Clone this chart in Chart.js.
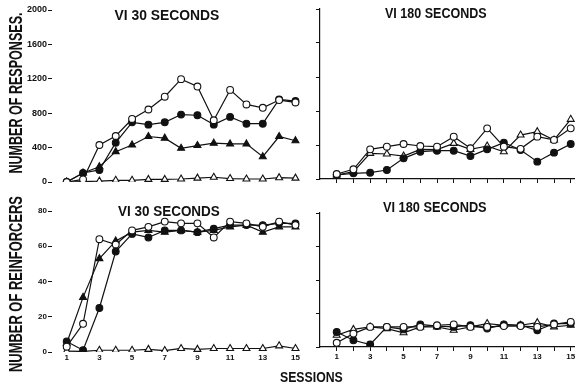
<!DOCTYPE html>
<html>
<head>
<meta charset="utf-8">
<script src="https://cdn.jsdelivr.net/npm/chart.js@4.4.0/dist/chart.umd.min.js"></script>
<style>
html, body { margin: 0; padding: 0; background: #fff; width: 576px; height: 383px; overflow: hidden; position: relative; font-family: 'Liberation Sans', Arial, sans-serif; }
canvas { position: absolute; }
.lbl { position: absolute; font-weight: bold; color: #111; white-space: nowrap; line-height: 1; transform-origin: center center; }
</style>
</head>
<body>
<canvas id="tl" style="left:12px;top:0px" width="300" height="192"></canvas>
<canvas id="tr" style="left:280px;top:0px" width="300" height="189"></canvas>
<canvas id="bl" style="left:12px;top:195px" width="300" height="171"></canvas>
<canvas id="br" style="left:280px;top:195px" width="300" height="166"></canvas>
<script>
const sessions = [1, 2, 3, 4, 5, 6, 7, 8, 9, 10, 11, 12, 13, 14, 15];
const sessionLabels = [1, 3, 5, 7, 9, 11, 13, 15];
const responseTicks = [0, 400, 800, 1200, 1600, 2000];
const reinforcerTicks = [0, 20, 40, 60, 80];

// responses, VI 30 s
const openCircle30R   = [0, 30, 430, 535, 733, 843, 992, 1196, 1110, 718, 1071, 902, 863, 953, 925];
const filledCircle30R = [0, 105, 140, 457, 694, 667, 694, 784, 776, 667, 757, 678, 678, 961, 941];
const filledTri30R    = [0, 105, 178, 353, 431, 529, 510, 392, 424, 451, 443, 443, 294, 529, 480];
const openTri30R      = [0, 5, 10, 20, 20, 30, 30, 35, 45, 55, 40, 35, 35, 50, 45];

// responses, VI 180 s
const openCircle180R   = [59, 114, 349, 380, 412, 388, 380, 498, 361, 596, 380, 355, 498, 460, 596];
const filledCircle180R = [47, 67, 74, 106, 243, 321, 333, 333, 270, 349, 427, 341, 204, 310, 412];
const openTri180R      = [47, 86, 302, 294, 270, 349, 345, 419, 349, 388, 321, 517, 557, 459, 702];

// reinforcers, VI 30 s
const openCircle30S   = [3, 16, 64, 61, 69, 71, 74, 73, 73, 65, 74, 73, 71, 74, 72];
const filledCircle30S = [6, 1, 25, 57, 67, 65, 69, 69, 68, 70, 72, 72, 72, 73, 73];
const filledTri30S    = [5, 31, 53, 63, 68, 69, 68, 69, 68, 69, 71, 72, 68, 71, 71];
const openTri30S      = [0.5, 0.3, 1, 1, 1, 1.5, 0.8, 2, 1.5, 2, 2, 2, 2, 3.5, 2];

// reinforcers, VI 180 s
const openCircle180S   = [2.5, 8, 12, 12, 12, 12, 13, 13.5, 12, 12, 12.5, 12.5, 12, 13.5, 15];
const filledCircle180S = [9, 4, 1.5, 12, 10.5, 13.5, 12.5, 12, 13, 11, 13.5, 13, 10, 14, 14];
const openTri180S      = [7, 10.5, 12, 11, 8.5, 12, 12, 10, 12, 14, 13, 13, 14.5, 12, 13];

const ink = '#111';

function series(vals, shape, filled) {
    return {
        data: sessions.map((s, i) => ({ x: s, y: vals[i] })),
        borderColor: ink,
        borderWidth: 1.2,
        tension: 0,
        fill: false,
        pointStyle: shape,
        pointRadius: shape === 'triangle' ? 4 : 3.4,
        pointBorderWidth: 1.1,
        pointBorderColor: ink,
        pointBackgroundColor: filled ? ink : '#fff'
    };
}

function panel(id, sets, o) {
    new Chart(document.getElementById(id), {
        type: 'line',
        data: { datasets: sets },
        options: {
            responsive: false,
            animation: false,
            devicePixelRatio: 1,
            layout: { padding: o.pad },
            plugins: { legend: { display: false }, tooltip: { enabled: false } },
            scales: {
                x: {
                    type: 'linear',
                    min: o.xmin, max: o.xmax,
                    display: o.xShow,
                    afterBuildTicks: s => { s.ticks = sessions.map(v => ({ value: v })); },
                    afterFit: s => { s.height = o.xH; },
                    border: { display: o.frame, color: ink, width: 1.2 },
                    grid: { drawOnChartArea: false, drawTicks: o.frame, tickLength: 4, color: ink, lineWidth: 1 },
                    ticks: {
                        display: o.xLabels, autoSkip: false, maxRotation: 0, padding: 1,
                        color: ink, font: { size: 8, weight: 'bold' },
                        callback: v => sessionLabels.includes(v) ? String(v) : ''
                    }
                },
                y: {
                    min: 0, max: o.ymax,
                    afterBuildTicks: s => { s.ticks = o.yTicks.map(v => ({ value: v })); },
                    afterFit: s => { s.width = 40; },
                    border: { display: o.frame, color: ink, width: 1.2 },
                    grid: { drawOnChartArea: false, drawTicks: true, tickLength: 4, color: ink, lineWidth: 1 },
                    ticks: {
                        display: o.yLabels, padding: 1, color: ink, font: { size: o.yFont, weight: 'bold' },
                        callback: v => String(v)
                    }
                }
            }
        }
    });
}

panel('tl', [
    series(openCircle30R, 'circle', false),
    series(filledCircle30R, 'circle', true),
    series(filledTri30R, 'triangle', true),
    series(openTri30R, 'triangle', false)
], { pad: { top: 10, bottom: 10, right: 0 }, xmin: 0.1, xmax: 15.7, xShow: false, xH: 0, frame: false,
     xLabels: false, ymax: 2000, yTicks: responseTicks, yLabels: true, yFont: 9 });

panel('tr', [
    series(openCircle180R, 'circle', false),
    series(filledCircle180R, 'circle', true),
    series(openTri180R, 'triangle', false)
], { pad: { top: 9, bottom: 4, right: 4 }, xmin: 0, xmax: 15.25, xShow: true, xH: 6, frame: true,
     xLabels: false, ymax: 2000, yTicks: responseTicks, yLabels: false, yFont: 9 });

panel('bl', [
    series(openCircle30S, 'circle', false),
    series(filledCircle30S, 'circle', true),
    series(filledTri30S, 'triangle', true),
    series(openTri30S, 'triangle', false)
], { pad: { top: 16, bottom: 0, right: 0 }, xmin: 0.1, xmax: 15.7, xShow: true, xH: 14, frame: false,
     xLabels: true, ymax: 80, yTicks: reinforcerTicks, yLabels: true, yFont: 8 });

panel('br', [
    series(openCircle180S, 'circle', false),
    series(filledCircle180S, 'circle', true),
    series(openTri180S, 'triangle', false)
], { pad: { top: 18, bottom: 0, right: 4 }, xmin: 0, xmax: 15.25, xShow: true, xH: 14, frame: true,
     xLabels: true, ymax: 80, yTicks: reinforcerTicks, yLabels: false, yFont: 8 });

// text labels, squeezed to the widths seen in the reference
function label(text, cx, cy, size, w, rot) {
    const d = document.createElement('div');
    d.className = 'lbl';
    d.textContent = text;
    d.style.fontSize = size + 'px';
    document.body.appendChild(d);
    const nw = d.offsetWidth, nh = d.offsetHeight;
    d.style.left = (cx - nw / 2) + 'px';
    d.style.top = (cy - nh / 2) + 'px';
    d.style.transform = 'rotate(' + rot + 'deg) scaleX(' + (w / nw) + ')';
}

label('VI 30 SECONDS', 167, 15, 14, 105, 0);
label('VI 180 SECONDS', 436, 13, 14, 102, 0);
label('VI 30 SECONDS', 169, 211, 14, 102, 0);
label('VI 180 SECONDS', 435, 207, 14, 104, 0);
label('NUMBER OF RESPONSES.', 15, 93, 18, 161, -90);
label('NUMBER OF REINFORCERS', 15, 284, 18, 176, -90);
label('SESSIONS', 311, 376, 15, 63, 0);
</script>
</body>
</html>
